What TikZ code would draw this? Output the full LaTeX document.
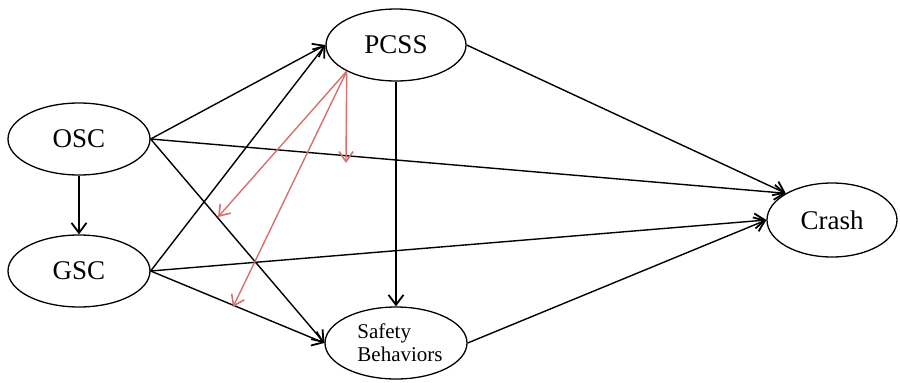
\documentclass[tikz,border=0pt]{standalone}
\usepackage{fontspec}
\setmainfont{Liberation Serif}
\usetikzlibrary{shapes.geometric,arrows.meta}
\definecolor{redarr}{RGB}{214,112,110}
\begin{document}
\begin{tikzpicture}[x=1pt,y=-1pt,
  var/.style={ellipse,draw,line width=1.3pt,inner sep=0pt,font=\fontsize{27}{30}\selectfont},
  path/.style={draw,line width=1.4pt,-{Straight Barb[length=10pt,width=15pt,line width=1.8pt]}},
  redpath/.style={draw=redarr,line width=1.4pt,-{Straight Barb[length=10pt,width=14pt,line width=1.6pt]}}]
\useasboundingbox (0,0) rectangle (900,383);
\node[var,minimum width=142pt,minimum height=72pt] (OSC) at (79,139) {OSC};
\node[var,minimum width=142pt,minimum height=72pt] (GSC) at (79,271) {GSC};
\node[var,minimum width=140pt,minimum height=72pt] (PCSS) at (396,45) {PCSS};
\node[var,minimum width=130pt,minimum height=74pt] (Crash) at (832,220) {Crash};
\node[var,minimum width=142pt,minimum height=72pt,align=left,font=\fontsize{21}{23}\selectfont] (SB) at (396,343) {\hspace*{8pt}Safety\\\hspace*{8pt}Behaviors};
\coordinate (r1) at (346,163);
\coordinate (r2) at (218,217);
\coordinate (r3) at (233,307);
\draw[path] (OSC.south) -- (GSC.north);
\draw[path] (OSC.east) -- (PCSS.west);
\draw[path] (OSC.east) -- (Crash.150);
\draw[path] (OSC.east) -- (SB.west);
\draw[path] (GSC.east) -- (PCSS.west);
\draw[path] (GSC.east) -- (Crash.west);
\draw[path] (GSC.east) -- (SB.west);
\draw[path] (PCSS.east) -- (Crash.150);
\draw[path] (PCSS.south) -- (SB.north);
\draw[path] (SB.east) -- (Crash.west);
\draw[redpath] (PCSS.-152) -- (r1);
\draw[redpath] (PCSS.-152) -- (r2);
\draw[redpath] (PCSS.-152) -- (r3);
\end{tikzpicture}
\end{document}
